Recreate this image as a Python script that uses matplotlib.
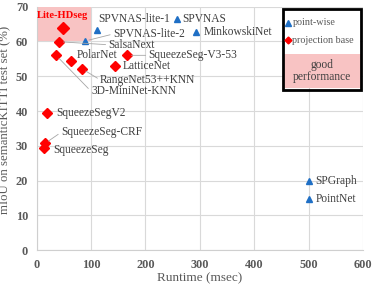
import matplotlib
matplotlib.use('Agg')
import matplotlib.pyplot as plt
from matplotlib.patches import Rectangle

plt.rcParams['font.family'] = ['Liberation Serif', 'DejaVu Serif']

# =============================================================================
# DATOS (runtime en msec, mIoU en %)
# =============================================================================

proj_names = ['Lite-HDseg', 'SalsaNext', 'PolarNet', 'SqueezeSeg-V3-53', 'LatticeNet',
              'RangeNet53++KNN', '3D-MiniNet-KNN', 'SqueezeSegV2', 'SqueezeSeg-CRF',
              'SqueezeSeg']
proj_runtime = [49, 42, 63, 167, 144, 84, 36, 20, 15.6, 13.8]
proj_miou = [63.9, 59.9, 54.3, 56.0, 52.9, 52.1, 56.0, 39.4, 30.7, 29.5]

point_names = ['SPVNAS-lite-1', 'SPVNAS-lite-2', 'SPVNAS', 'MinkowskiNet', 'SPGraph', 'PointNet']
point_runtime = [110.6, 89, 259, 294, 500, 500]
point_miou = [63.4, 60.1, 66.3, 62.6, 20.0, 14.7]

good_runtime = (0, 100)
good_miou = (60, 70)

# desplazamiento de etiquetas (pixeles) y si llevan linea guia
label_offsets = {
    'Lite-HDseg': (-26, 12, False),
    'SalsaNext': (49, -3, True),
    'PolarNet': (6, 6, False),
    'SqueezeSeg-V3-53': (21, 0, True),
    'LatticeNet': (8, 0, False),
    'RangeNet53++KNN': (18, -11, True),
    '3D-MiniNet-KNN': (35, -36, True),
    'SqueezeSegV2': (9, 0, False),
    'SqueezeSeg-CRF': (16, 11, True),
    'SqueezeSeg': (9, -2, False),
    'SPVNAS-lite-1': (2, 11, False),
    'SPVNAS-lite-2': (28, 7, True),
    'SPVNAS': (5, 0, False),
    'MinkowskiNet': (7, 0, False),
    'SPGraph': (7, 0, False),
    'PointNet': (7, 0, False),
}

RED = '#ff0000'
BLUE = '#1f6fc5'
PINK = '#f8c3c3'
GRAY = '#595959'

# =============================================================================
# GRAFICA
# =============================================================================

fig = plt.figure(figsize=(3.74, 2.87), dpi=100)
ax = fig.add_axes([0.0976, 0.128, 0.873, 0.849])

ax.add_patch(Rectangle((good_runtime[0], good_miou[0]),
                       good_runtime[1] - good_runtime[0], good_miou[1] - good_miou[0],
                       facecolor=PINK, edgecolor='none', zorder=1.5))

ax.plot(proj_runtime, proj_miou, 'D', color=RED, markersize=5, zorder=3, clip_on=False)
ax.plot(proj_runtime[:1], proj_miou[:1], 'D', color=RED, markersize=6, zorder=3)
ax.plot(point_runtime, point_miou, '^', color=BLUE, markersize=5, zorder=3)

for name, x, y in zip(proj_names + point_names, proj_runtime + point_runtime,
                      proj_miou + point_miou):
    dx, dy, leader = label_offsets[name]
    kw = dict(fontsize=8.3, color='#404040')
    if name == 'Lite-HDseg':
        kw = dict(fontsize=7.6, color=RED, fontweight='bold')
    arrow = None
    if leader:
        arrow = dict(arrowstyle='-', color='#a6a6a6', lw=0.6, shrinkA=0, shrinkB=3,
                     relpos=(0, 0.5))
    ax.annotate(name, (x, y), xytext=(dx, dy), textcoords='offset pixels',
                ha='left', va='center', arrowprops=arrow, zorder=4, **kw)

ax.set_xlim(0, 600)
ax.set_ylim(0, 70)
ax.set_xticks(range(0, 601, 100))
ax.set_yticks(range(0, 71, 10))
ax.grid(True, color='#d9d9d9', lw=0.8)
ax.set_axisbelow(True)
for side in ['top', 'right']:
    ax.spines[side].set_visible(False)
for side in ['left', 'bottom']:
    ax.spines[side].set_color('#cfcfcf')
ax.tick_params(length=0, pad=6, labelsize=8.8, labelcolor=GRAY)
for lab in ax.get_xticklabels() + ax.get_yticklabels():
    lab.set_fontweight('bold')

ax.set_xlabel('Runtime (msec)', fontsize=9.5, color=GRAY)
ax.set_ylabel('mIoU on semanticKITTI test set (%)', fontsize=9.2, color=GRAY)
ax.xaxis.set_label_coords(0.5, -0.092)
ax.yaxis.set_label_coords(-0.078, 0.535)

# Leyenda personalizada
ax.add_patch(Rectangle((0.754, 0.664), 0.239, 0.142, transform=ax.transAxes,
                       facecolor=PINK, edgecolor='none', zorder=5, clip_on=False))
ax.add_patch(Rectangle((0.754, 0.659), 0.239, 0.332, transform=ax.transAxes,
                       facecolor='none', edgecolor='black', lw=2, zorder=6, clip_on=False))
ax.add_patch(Rectangle((0.756, 0.806), 0.235, 0.183, transform=ax.transAxes,
                       facecolor='white', edgecolor='none', zorder=4.5, clip_on=False))
ax.plot([0.771], [0.934], '^', color=BLUE, markersize=4, transform=ax.transAxes,
        zorder=6, clip_on=False)
ax.plot([0.771], [0.861], 'D', color=RED, markersize=3.5, transform=ax.transAxes,
        zorder=6, clip_on=False)
ax.text(0.784, 0.934, 'point-wise', transform=ax.transAxes, fontsize=7.3, color=GRAY,
        ha='left', va='center', zorder=6)
ax.text(0.784, 0.861, 'projection base', transform=ax.transAxes, fontsize=7.3, color=GRAY,
        ha='left', va='center', zorder=6)
ax.text(0.873, 0.737, 'good\nperformance', transform=ax.transAxes, fontsize=8.3,
        color='#404040', ha='center', va='center', linespacing=1.0, zorder=6)

plt.savefig('out.png', dpi=100, facecolor='white')
plt.close()
